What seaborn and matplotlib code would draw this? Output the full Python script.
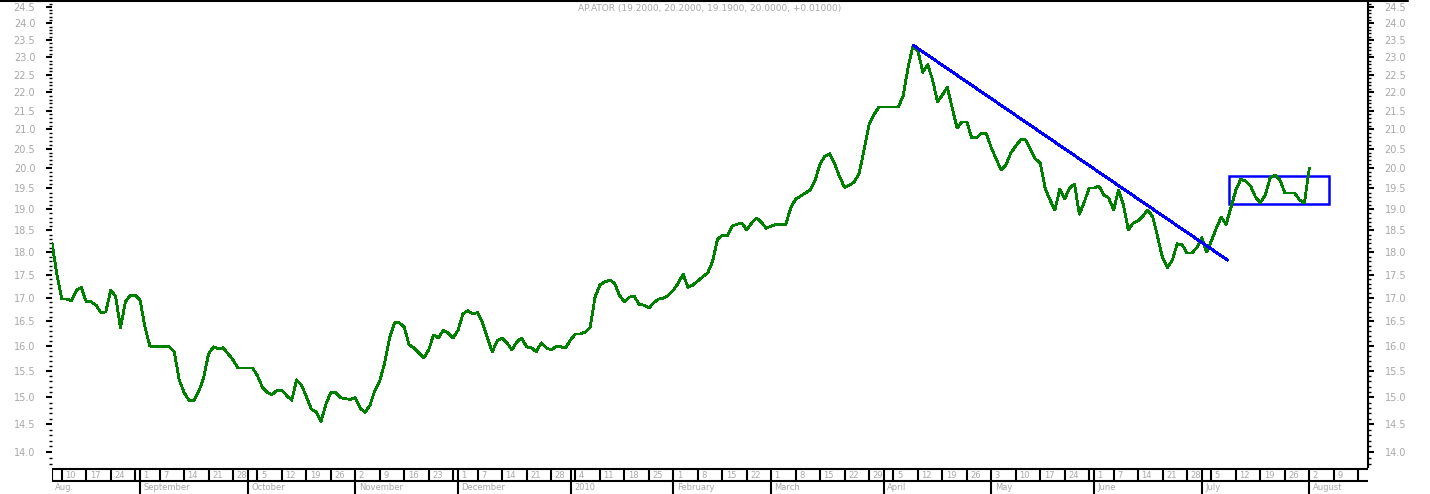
import numpy as np
import pandas as pd
import matplotlib
matplotlib.use("Agg")
import matplotlib.pyplot as plt
import seaborn as sns
from matplotlib.patches import Rectangle
from matplotlib.lines import Line2D
from matplotlib.ticker import FixedLocator, FixedFormatter, NullFormatter

# ---------------- data ----------------
title_text = "AP.ATOR (19.2000, 20.2000, 19.1900, 20.0000, +0.01000)"
start_date = "2009-08-06"
close = [
    18.21, 17.50, 16.97, 16.97, 16.93, 17.16, 17.22, 16.91, 16.91, 16.84,
    16.68, 16.70, 17.16, 17.03, 16.36, 16.91, 17.05, 17.05, 16.95, 16.38,
    16.00, 15.98, 15.98, 15.98, 15.98, 15.88, 15.33, 15.09, 14.94, 14.94,
    15.11, 15.37, 15.84, 15.98, 15.94, 15.96, 15.84, 15.72, 15.56, 15.56,
    15.56, 15.56, 15.41, 15.19, 15.09, 15.05, 15.13, 15.13, 15.03, 14.94,
    15.33, 15.23, 15.01, 14.78, 14.72, 14.55, 14.87, 15.09, 15.09, 14.99,
    14.97, 14.96, 14.99, 14.79, 14.72, 14.85, 15.13, 15.31, 15.66, 16.16,
    16.47, 16.47, 16.38, 16.02, 15.96, 15.86, 15.76, 15.92, 16.22, 16.16,
    16.32, 16.26, 16.16, 16.32, 16.66, 16.72, 16.66, 16.68, 16.47, 16.16,
    15.88, 16.10, 16.16, 16.06, 15.92, 16.08, 16.16, 15.98, 15.96, 15.88,
    16.06, 15.96, 15.92, 15.98, 15.98, 15.96, 16.12, 16.24, 16.24, 16.28,
    16.38, 17.01, 17.27, 17.34, 17.38, 17.31, 17.05, 16.91, 17.01, 17.03,
    16.86, 16.84, 16.78, 16.89, 16.97, 16.99, 17.05, 17.16, 17.31, 17.51,
    17.22, 17.27, 17.36, 17.45, 17.53, 17.78, 18.28, 18.39, 18.37, 18.60,
    18.64, 18.67, 18.51, 18.67, 18.79, 18.69, 18.55, 18.60, 18.64, 18.64,
    18.64, 19.03, 19.24, 19.31, 19.39, 19.46, 19.71, 20.11, 20.31, 20.37,
    20.11, 19.78, 19.53, 19.58, 19.66, 19.88, 20.47, 21.12, 21.39, 21.60,
    21.60, 21.60, 21.60, 21.60, 21.91, 22.72, 23.33, 23.18, 22.57, 22.78,
    22.35, 21.74, 21.93, 22.15, 21.58, 21.04, 21.20, 21.20, 20.78, 20.78,
    20.91, 20.89, 20.52, 20.24, 19.96, 20.09, 20.39, 20.57, 20.73, 20.73,
    20.47, 20.24, 20.13, 19.51, 19.22, 18.98, 19.48, 19.24, 19.51, 19.61,
    18.88, 19.17, 19.51, 19.51, 19.56, 19.34, 19.27, 18.98, 19.46, 19.10,
    18.51, 18.67, 18.72, 18.84, 18.98, 18.81, 18.35, 17.87, 17.65, 17.82,
    18.19, 18.17, 17.98, 17.98, 18.10, 18.33, 18.00, 18.26, 18.55, 18.81,
    18.64, 19.05, 19.46, 19.73, 19.68, 19.56, 19.29, 19.15, 19.34, 19.76,
    19.83, 19.71, 19.39, 19.39, 19.39, 19.22, 19.15, 20.00,
]
# trend line (trading-day index, price)
trend_idx = [176, 240.3]
trend_val = [23.35, 17.82]
# consolidation box (trading-day index range, price range)
box_idx = [240.5, 261.0]
box_val = [19.12, 19.81]
y_major = [14.0, 14.5, 15.0, 15.5, 16.0, 16.5, 17.0, 17.5, 18.0, 18.5, 19.0,
           19.5, 20.0, 20.5, 21.0, 21.5, 22.0, 22.5, 23.0, 23.5, 24.0, 24.5]
month_names = {1: None, 2: "February", 3: "March", 4: "April", 5: "May",
               6: "June", 7: "July", 8: "August", 9: "September",
               10: "October", 11: "November", 12: "December"}
first_month_label = "Aug."

# ---------------- layout ----------------
W, H = 1430, 494
X0, X1 = 52, 1368
Y0, Y1 = 2, 467
N_AXIS = 269  # trading days covered by the x axis

sns.set_style("white")
plt.rcParams["font.family"] = ["DejaVu Sans"]

fig = plt.figure(figsize=(W / 100, H / 100), dpi=100)
fig.patch.set_facecolor("white")
ax = fig.add_axes([X0 / W, 1 - Y1 / H, (X1 - X0) / W, (Y1 - Y0) / H])
ax.set_facecolor("white")

idx = np.arange(len(close))
df = pd.DataFrame({"i": idx, "close": close})
sns.lineplot(data=df, x="i", y="close", ax=ax, color="#008000",
             linewidth=1.3, antialiased=False, estimator=None)
ax.plot(trend_idx, trend_val, color="#0000ff", linewidth=1.4, antialiased=False)
ax.add_patch(Rectangle((box_idx[0], box_val[0]), box_idx[1] - box_idx[0],
                       box_val[1] - box_val[0], fill=False,
                       edgecolor="#0000ff", linewidth=1.8))

ax.set_yscale("log")
ax.set_ylim(13.74, 24.65)
ax.set_xlim(0, N_AXIS)
ax.yaxis.set_major_locator(FixedLocator(y_major))
ax.yaxis.set_major_formatter(FixedFormatter([f"{v:.1f}" for v in y_major]))
ax.yaxis.set_minor_locator(FixedLocator(np.arange(13.8, 24.65, 0.1)))
ax.yaxis.set_minor_formatter(NullFormatter())
ax.tick_params(axis="y", which="both", left=True, right=True,
               labelleft=True, labelright=True, direction="out",
               labelsize=7, labelcolor="#a8a8a8", color="black")
ax.tick_params(axis="y", which="major", length=4, width=1.5, pad=8)
ax.tick_params(axis="y", which="minor", length=2, width=1.0)
ax.set_xticks([])
ax.set_xlabel("")
ax.set_ylabel("")
for s in ["left", "top", "bottom"]:
    ax.spines[s].set_visible(False)
ax.spines["right"].set_visible(True)
ax.spines["right"].set_color("black")
ax.spines["right"].set_linewidth(1.5)

# ---------------- date band ----------------
ext_dates = pd.bdate_range(start_date, periods=N_AXIS + 1)
band = fig.add_axes([X0 / W, 0, (X1 - X0) / W, (H - Y1) / H])
band.set_xlim(0, N_AXIS)
band.set_ylim(H - Y1, 0)
band.axis("off")
band.hlines([2, 14], 0, N_AXIS, color="black", linewidth=1.5)
band.vlines([0], 2, 14, color="black", linewidth=1.5)
band.text(0.5, 20.5, first_month_label, fontsize=6, color="#a8a8a8",
          ha="left", va="center")

ticks = []
for j in range(1, len(ext_dates)):
    d, p = ext_dates[j], ext_dates[j - 1]
    if d.month != p.month:
        ticks.append((j, d, True))
    elif d.weekday() == 0:
        ticks.append((j, d, False))
for k, (j, d, is_month) in enumerate(ticks):
    band.vlines([j], 2, 27 if is_month else 14, color="black", linewidth=1.5)
    nxt = ticks[k + 1][0] if k + 1 < len(ticks) else N_AXIS + 5
    if nxt - j >= 3 and j < N_AXIS - 2:
        band.text(j + 0.7, 8, str(d.day), fontsize=6, color="#a8a8a8",
                  ha="left", va="center")
    if is_month:
        name = month_names[d.month] or str(d.year)
        band.text(j + 0.7, 20.5, name, fontsize=6, color="#a8a8a8",
                  ha="left", va="center")

# ---------------- frame / title ----------------
fig.add_artist(Line2D([0, 1408 / W], [1 - 0.8 / H, 1 - 0.8 / H],
                      color="black", linewidth=1.5))
fig.text(710 / W, 1 - 8 / H, title_text, ha="center", va="center",
         fontsize=6.5, color="#a8a8a8")

fig.savefig("out.png", dpi=100, facecolor="white")
